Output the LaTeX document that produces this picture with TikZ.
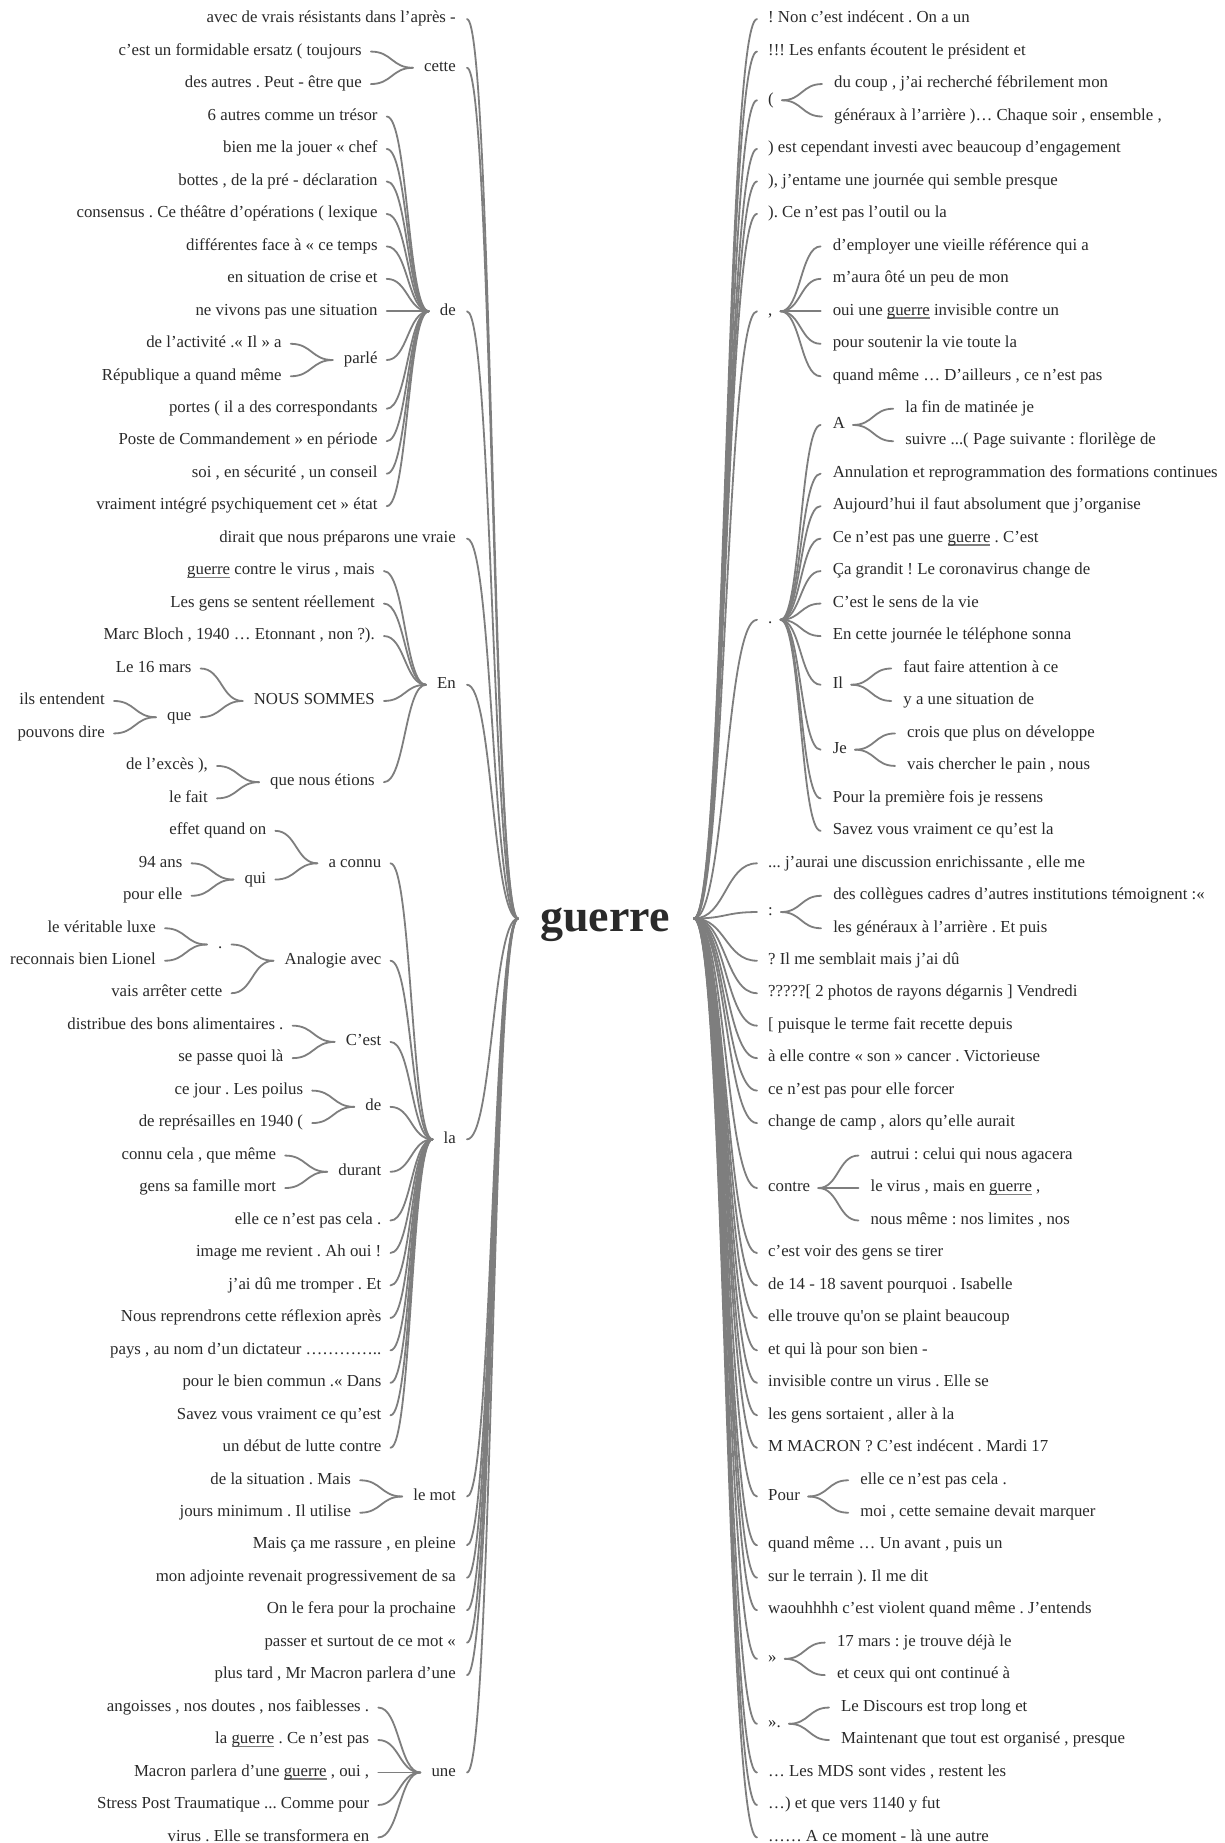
\documentclass[tikz,border=0pt]{standalone}
\usepackage{fontspec}
\setmainfont{Liberation Serif}
\frenchspacing
\definecolor{txt}{HTML}{2A2A2A}
\definecolor{lin}{HTML}{7E7E7E}
\newcommand{\ugw}{\leavevmode\setbox0\hbox{guerre}\rlap{\textcolor{lin}{\rule[-3.6pt]{\wd0}{1.7pt}}}\box0}
\tikzset{
 w/.style={font=\fontsize{16.8}{20}\selectfont\frenchspacing, inner sep=0pt, text height=7.5pt, text depth=0pt, text=txt},
 con/.style={draw=lin, line width=1.8pt, line cap=round},
}
\newcommand{\lkcoord}[1]{\coordinate (#1-k) at ([xshift=-62pt]#1.west);}
\newcommand{\rkcoord}[1]{\coordinate (#1-k) at ([xshift=60pt]#1.east);}
\newcommand{\lgkid}[3]{\node[w,anchor=east] (#1) at (456,#2) {#3};
  \draw[con] ([xshift=11pt]#1.east) .. controls +(25.5,0) and +(-25.5,0) .. (gl);}
\newcommand{\rgkid}[3]{\node[w,anchor=west] (#1) at (768,#2) {#3};
  \draw[con] (gr) .. controls +(31.5,0) and +(-31.5,0) .. ([xshift=-11pt]#1.west);}
\newcommand{\lkid}[4]{\node[w,anchor=east] (#1) at (#2-k |- 0,#3) {#4};
  \draw[con] ([xshift=9pt]#1.east) .. controls +(21,0) and +(-21,0) .. ([xshift=-11pt]#2.west);}
\newcommand{\rkid}[4]{\node[w,anchor=west] (#1) at (#2-k |- 0,#3) {#4};
  \draw[con] ([xshift=8pt]#2.east) .. controls +(20,0) and +(-20,0) .. ([xshift=-12pt]#1.west);}
\begin{document}
\begin{tikzpicture}[x=1pt,y=-1pt]
\fill[white] (0,0) rectangle (1225,1843);
\useasboundingbox (0,0) rectangle (1225,1843);
\begin{scope}[shift={(0,2.5)}]
\node[font=\fontsize{46}{50}\selectfont\bfseries, text=txt, inner sep=0pt, anchor=base] (guerre) at (605,929) {guerre};
\coordinate (gl) at (518,916);
\coordinate (gr) at (694,916);
% ---------------- left side
\lgkid{l1}{16.6}{avec de vrais résistants dans l’après -}
\lgkid{Lcette}{65.31}{cette}
\lkcoord{Lcette}
\lkid{l2}{Lcette}{49.07}{c’est un formidable ersatz ( toujours}
\lkid{l3}{Lcette}{81.54}{des autres . Peut - être que}
\lgkid{Lde}{308.83}{de}
\lkcoord{Lde}
\lkid{l4}{Lde}{114.01}{6 autres comme un trésor}
\lkid{l5}{Lde}{146.48}{bien me la jouer « chef}
\lkid{l6}{Lde}{178.95}{bottes , de la pré - déclaration}
\lkid{l7}{Lde}{211.42}{consensus . Ce théâtre d’opérations ( lexique}
\lkid{l8}{Lde}{243.89}{différentes face à « ce temps}
\lkid{l9}{Lde}{276.36}{en situation de crise et}
\lkid{l10}{Lde}{308.83}{ne vivons pas une situation}
\lkid{Lparle}{Lde}{357.54}{parlé}
\lkcoord{Lparle}
\lkid{l11}{Lparle}{341.3}{de l’activité .« Il » a}
\lkid{l12}{Lparle}{373.77}{République a quand même}
\lkid{l13}{Lde}{406.24}{portes ( il a des correspondants}
\lkid{l14}{Lde}{438.71}{Poste de Commandement » en période}
\lkid{l15}{Lde}{471.18}{soi , en sécurité , un conseil}
\lkid{l16}{Lde}{503.65}{vraiment intégré psychiquement cet » état}
\lgkid{l17}{536.12}{dirait que nous préparons une vraie}
\lgkid{LEn}{682.24}{En}
\lkcoord{LEn}
\lkid{l18}{LEn}{568.59}{\ugw{} contre le virus , mais}
\lkid{l19}{LEn}{601.06}{Les gens se sentent réellement}
\lkid{l20}{LEn}{633.53}{Marc Bloch , 1940 … Etonnant , non ?).}
\lkid{LNS}{LEn}{698.47}{NOUS SOMMES}
\lkcoord{LNS}
\lkid{l21}{LNS}{666.0}{Le 16 mars}
\lkid{Lque}{LNS}{714.71}{que}
\lkcoord{Lque}
\lkid{l22}{Lque}{698.47}{ils entendent}
\lkid{l23}{Lque}{730.94}{pouvons dire}
\lkid{Lqne}{LEn}{779.65}{que nous étions}
\lkcoord{Lqne}
\lkid{l24}{Lqne}{763.41}{de l’excès ),}
\lkid{l25}{Lqne}{795.88}{le fait}
\lgkid{Lla}{1136.82}{la}
\lkcoord{Lla}
\lkid{Lac}{Lla}{860.82}{a connu}
\lkcoord{Lac}
\lkid{l26}{Lac}{828.35}{effet quand on}
\lkid{Lqui}{Lac}{877.06}{qui}
\lkcoord{Lqui}
\lkid{l27}{Lqui}{860.82}{94 ans}
\lkid{l28}{Lqui}{893.29}{pour elle}
\lkid{Lana}{Lla}{958.23}{Analogie avec}
\lkcoord{Lana}
\lkid{Ldot}{Lana}{942.0}{.}
\lkcoord{Ldot}
\lkid{l29}{Ldot}{925.76}{le véritable luxe}
\lkid{l30}{Ldot}{958.23}{reconnais bien Lionel}
\lkid{l31}{Lana}{990.7}{vais arrêter cette}
\lkid{Lcest}{Lla}{1039.41}{C’est}
\lkcoord{Lcest}
\lkid{l32}{Lcest}{1023.17}{distribue des bons alimentaires .}
\lkid{l33}{Lcest}{1055.64}{se passe quoi là}
\lkid{Lde2}{Lla}{1104.35}{de}
\lkcoord{Lde2}
\lkid{l34}{Lde2}{1088.11}{ce jour . Les poilus}
\lkid{l35}{Lde2}{1120.58}{de représailles en 1940 (}
\lkid{Ldur}{Lla}{1169.29}{durant}
\lkcoord{Ldur}
\lkid{l36}{Ldur}{1153.05}{connu cela , que même}
\lkid{l37}{Ldur}{1185.52}{gens sa famille mort}
\lkid{l38}{Lla}{1217.99}{elle ce n’est pas cela .}
\lkid{l39}{Lla}{1250.46}{image me revient . Ah oui !}
\lkid{l40}{Lla}{1282.93}{j’ai dû me tromper . Et}
\lkid{l41}{Lla}{1315.4}{Nous reprendrons cette réflexion après}
\lkid{l42}{Lla}{1347.87}{pays , au nom d’un dictateur …………..}
\lkid{l43}{Lla}{1380.34}{pour le bien commun .« Dans}
\lkid{l44}{Lla}{1412.81}{Savez vous vraiment ce qu’est}
\lkid{l45}{Lla}{1445.28}{un début de lutte contre}
\lgkid{Lmot}{1493.99}{le mot}
\lkcoord{Lmot}
\lkid{l46}{Lmot}{1477.75}{de la situation . Mais}
\lkid{l47}{Lmot}{1510.22}{jours minimum . Il utilise}
\lgkid{l48}{1542.69}{Mais ça me rassure , en pleine}
\lgkid{l49}{1575.16}{mon adjointe revenait progressivement de sa}
\lgkid{l50}{1607.63}{On le fera pour la prochaine}
\lgkid{l51}{1640.1}{passer et surtout de ce mot «}
\lgkid{l52}{1672.57}{plus tard , Mr Macron parlera d’une}
\lgkid{Lune}{1769.98}{une}
\lkcoord{Lune}
\lkid{l53}{Lune}{1705.04}{angoisses , nos doutes , nos faiblesses .}
\lkid{l54}{Lune}{1737.51}{la \ugw{} . Ce n’est pas}
\lkid{l55}{Lune}{1769.98}{Macron parlera d’une \ugw{} , oui ,}
\lkid{l56}{Lune}{1802.45}{Stress Post Traumatique ... Comme pour}
\lkid{l57}{Lune}{1834.92}{virus . Elle se transformera en}
% ---------------- right side
\rgkid{r1}{16.6}{! Non c’est indécent . On a un}
\rgkid{r2}{49.07}{!!! Les enfants écoutent le président et}
\rgkid{Rpar}{97.78}{(}
\rkcoord{Rpar}
\rkid{r3}{Rpar}{81.54}{du coup , j’ai recherché fébrilement mon}
\rkid{r4}{Rpar}{114.01}{généraux à l’arrière )… Chaque soir , ensemble ,}
\rgkid{r5}{146.48}{) est cependant investi avec beaucoup d’engagement}
\rgkid{r6}{178.95}{), j’entame une journée qui semble presque}
\rgkid{r7}{211.42}{). Ce n’est pas l’outil ou la}
\rgkid{Rcom}{308.83}{,}
\rkcoord{Rcom}
\rkid{r8}{Rcom}{243.89}{d’employer une vieille référence qui a}
\rkid{r9}{Rcom}{276.36}{m’aura ôté un peu de mon}
\rkid{r10}{Rcom}{308.83}{oui une \ugw{} invisible contre un}
\rkid{r11}{Rcom}{341.3}{pour soutenir la vie toute la}
\rkid{r12}{Rcom}{373.77}{quand même … D’ailleurs , ce n’est pas}
\rgkid{Rdot}{617.3}{.}
\rkcoord{Rdot}
\rkid{RA}{Rdot}{422.48}{A}
\rkcoord{RA}
\rkid{r13}{RA}{406.24}{la fin de matinée je}
\rkid{r14}{RA}{438.71}{suivre ...( Page suivante : florilège de}
\rkid{r15}{Rdot}{471.18}{Annulation et reprogrammation des formations continues}
\rkid{r16}{Rdot}{503.65}{Aujourd’hui il faut absolument que j’organise}
\rkid{r17}{Rdot}{536.12}{Ce n’est pas une \ugw{} . C’est}
\rkid{r18}{Rdot}{568.59}{Ça grandit ! Le coronavirus change de}
\rkid{r19}{Rdot}{601.06}{C’est le sens de la vie}
\rkid{r20}{Rdot}{633.53}{En cette journée le téléphone sonna}
\rkid{RIl}{Rdot}{682.24}{Il}
\rkcoord{RIl}
\rkid{r21}{RIl}{666.0}{faut faire attention à ce}
\rkid{r22}{RIl}{698.47}{y a une situation de}
\rkid{RJe}{Rdot}{747.18}{Je}
\rkcoord{RJe}
\rkid{r23}{RJe}{730.94}{crois que plus on développe}
\rkid{r24}{RJe}{763.41}{vais chercher le pain , nous}
\rkid{r25}{Rdot}{795.88}{Pour la première fois je ressens}
\rkid{r26}{Rdot}{828.35}{Savez vous vraiment ce qu’est la}
\rgkid{r27}{860.82}{... j’aurai une discussion enrichissante , elle me}
\rgkid{Rcol}{909.53}{:}
\rkcoord{Rcol}
\rkid{r28}{Rcol}{893.29}{des collègues cadres d’autres institutions témoignent :«}
\rkid{r29}{Rcol}{925.76}{les généraux à l’arrière . Et puis}
\rgkid{r30}{958.23}{? Il me semblait mais j’ai dû}
\rgkid{r31}{990.7}{?????[ 2 photos de rayons dégarnis ] Vendredi}
\rgkid{r32}{1023.17}{[ puisque le terme fait recette depuis}
\rgkid{r33}{1055.64}{à elle contre « son » cancer . Victorieuse}
\rgkid{r34}{1088.11}{ce n’est pas pour elle forcer}
\rgkid{r35}{1120.58}{change de camp , alors qu’elle aurait}
\rgkid{Rcon}{1185.52}{contre}
\rkcoord{Rcon}
\rkid{r36}{Rcon}{1153.05}{autrui : celui qui nous agacera}
\rkid{r37}{Rcon}{1185.52}{le virus , mais en \ugw{} ,}
\rkid{r38}{Rcon}{1217.99}{nous même : nos limites , nos}
\rgkid{r39}{1250.46}{c’est voir des gens se tirer}
\rgkid{r40}{1282.93}{de 14 - 18 savent pourquoi . Isabelle}
\rgkid{r41}{1315.4}{elle trouve qu\textquotesingle on se plaint beaucoup}
\rgkid{r42}{1347.87}{et qui là pour son bien -}
\rgkid{r43}{1380.34}{invisible contre un virus . Elle se}
\rgkid{r44}{1412.81}{les gens sortaient , aller à la}
\rgkid{r45}{1445.28}{M MACRON ? C’est indécent . Mardi 17}
\rgkid{Rpour}{1493.99}{Pour}
\rkcoord{Rpour}
\rkid{r46}{Rpour}{1477.75}{elle ce n’est pas cela .}
\rkid{r47}{Rpour}{1510.22}{moi , cette semaine devait marquer}
\rgkid{r48}{1542.69}{quand même … Un avant , puis un}
\rgkid{r49}{1575.16}{sur le terrain ). Il me dit}
\rgkid{r50}{1607.63}{waouhhhh c’est violent quand même . J’entends}
\rgkid{Rg1}{1656.34}{»}
\rkcoord{Rg1}
\rkid{r51}{Rg1}{1640.1}{17 mars : je trouve déjà le}
\rkid{r52}{Rg1}{1672.57}{et ceux qui ont continué à}
\rgkid{Rg2}{1721.28}{».}
\rkcoord{Rg2}
\rkid{r53}{Rg2}{1705.04}{Le Discours est trop long et}
\rkid{r54}{Rg2}{1737.51}{Maintenant que tout est organisé , presque}
\rgkid{r55}{1769.98}{… Les MDS sont vides , restent les}
\rgkid{r56}{1802.45}{…) et que vers 1140 y fut}
\rgkid{r57}{1834.92}{…… A ce moment - là une autre}
\end{scope}
\end{tikzpicture}
\end{document}
